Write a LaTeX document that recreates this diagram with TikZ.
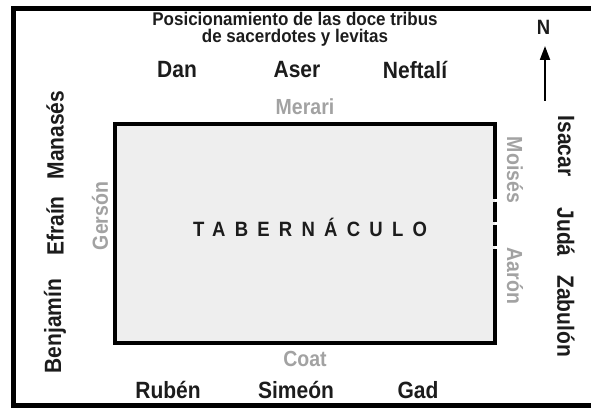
\documentclass[tikz,border=0pt]{standalone}
\usepackage{graphicx}
\usepackage{fontspec}
\setmainfont{Liberation Sans}
\usetikzlibrary{arrows.meta}
\definecolor{txt}{HTML}{1C1C1C}
\definecolor{lev}{HTML}{A2A2A2}
\definecolor{tabfill}{HTML}{EEEEEE}
\newcommand{\tallt}[1]{\scalebox{1}[1.12]{#1}}
\newcommand{\talltitle}[1]{\scalebox{1}[1.08]{#1}}
\begin{document}
\begin{tikzpicture}[x=1pt,y=-1pt,
  tribe/.style={font=\fontsize{21}{24}\selectfont\bfseries, text=txt, inner sep=0pt},
  levite/.style={font=\fontsize{19.5}{22}\selectfont\bfseries, text=lev, inner sep=0pt},
  titletext/.style={font=\fontsize{17}{18}\selectfont\bfseries, text=txt, inner sep=0pt},
  frameline/.style={line width=5pt},
  wall/.style={line width=4pt}]
\useasboundingbox (0,0) rectangle (591,409);
% outer frame (right side cut off)
\draw[frameline] (591,8.5) -- (13.5,8.5) -- (13.5,405.5) -- (591,405.5);
% tabernacle
\fill[tabfill] (115,124) rectangle (495,343);
\draw[wall] (495,198.5) -- (495,124) -- (115,124) -- (115,343) -- (495,343) -- (495,248.5);
\draw[wall] (495,201.5) -- (495,221.5);
\draw[wall] (495,224.5) -- (495,245.5);
\node[font=\fontsize{18.5}{20}\selectfont\bfseries\addfontfeature{LetterSpace=50}, text=txt, inner sep=0pt] (tab) at (310,227) {\tallt{TABERNÁCULO}};
% title
\node[titletext] (title1) at (295,18.5) {\talltitle{Posicionamiento de las doce tribus}};
\node[titletext] (title2) at (295,37.5) {\talltitle{de sacerdotes y levitas}};
% north arrow
\node[font=\fontsize{18.5}{20}\selectfont\bfseries, text=txt, inner sep=0pt] (N) at (543.5,27) {\tallt{N}};
\coordinate (ntail) at (545,101);
\coordinate (nhead) at (545,46);
\draw[line width=2pt, -{Triangle[length=14pt,width=10pt]}] (ntail) -- (nhead);
% tribes north
\node[tribe] (dan) at (177,70) {\tallt{Dan}};
\node[tribe] (aser) at (297,70) {\tallt{Aser}};
\node[tribe] (neftali) at (415,70) {\tallt{Neftalí}};
% tribes south
\node[tribe] (ruben) at (168,390) {\tallt{Rubén}};
\node[tribe] (simeon) at (296,390) {\tallt{Simeón}};
\node[tribe] (gad) at (418,390) {\tallt{Gad}};
% tribes west
\node[tribe, rotate=90] (manases) at (55,135) {\tallt{Manasés}};
\node[tribe, rotate=90] (efrain) at (55,226) {\tallt{Efraín}};
\node[tribe, rotate=90] (benjamin) at (55,326) {\tallt{Benjamín}};
% tribes east
\node[tribe, rotate=-90] (isacar) at (566,146) {\tallt{Isacar}};
\node[tribe, rotate=-90] (juda) at (566,232) {\tallt{Judá}};
\node[tribe, rotate=-90] (zabulon) at (566,316) {\tallt{Zabulón}};
% levites
\node[levite] (merari) at (305,107) {\tallt{Merari}};
\node[levite] (coat) at (305,359) {\tallt{Coat}};
\node[levite, rotate=90] (gerson) at (100,216) {\tallt{Gersón}};
\node[levite, rotate=-90] (moises) at (515,170) {\tallt{Moisés}};
\node[levite, rotate=-90] (aaron) at (515,276) {\tallt{Aarón}};
\end{tikzpicture}
\end{document}
